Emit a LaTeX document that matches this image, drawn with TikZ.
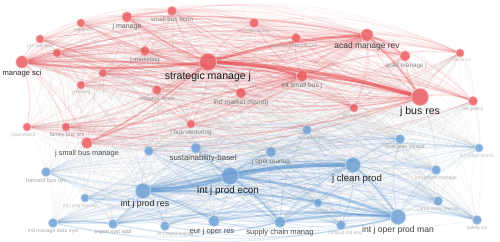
\documentclass[tikz,border=0pt]{standalone}
\usepackage{fontspec}
\setmainfont{Liberation Sans}
\usetikzlibrary{backgrounds}
\definecolor{vosred}{HTML}{E6464B}
\definecolor{vosblue}{HTML}{5A93CF}
\definecolor{vosgrey}{HTML}{9A9A9A}
\begin{document}
\begin{tikzpicture}[x=0.02cm,y=-0.02cm,
  rnode/.style={circle,inner sep=0pt,fill=vosred,fill opacity=0.75,draw=vosred!55,draw opacity=0.5,line width=0.7pt},
  bnode/.style={circle,inner sep=0pt,fill=vosblue,fill opacity=0.75,draw=vosblue!55,draw opacity=0.5,line width=0.7pt},
  every label/.style={inner sep=0.4pt,text opacity=1,fill opacity=0,draw opacity=0},
  redge/.style={draw=vosred,opacity=0.09,line width=0.35pt},
  bedge/.style={draw=vosblue,opacity=0.09,line width=0.35pt},
  xedge/.style={draw=vosgrey,opacity=0.08,line width=0.3pt}]
\useasboundingbox (0,0) rectangle (500,242);
\begin{scope}[on background layer]
\fill[white] (0,0) rectangle (500,242);
\end{scope}
% journals, red cluster
\foreach \n/\x/\y/\s/\t/\f/\g/\d in {
  1/22/62/12/manage sci/4.3/85/0,
  2/40/39/8/j int bus stud/2.6/30/0,
  3/81/23/8/organ sci/2.6/30/2,
  4/127/17/10/j manage/4/60/0,
  5/172/11/9/small bus econ/3.6/50/0,
  6/57/53/8//2.6/30/0,
  7/145/51/9/j marketing/3.4/50/0,
  8/103/73/8//2.6/30/0,
  9/81/85/8/j retailing/2.6/30/0,
  10/157/90/9/manage decis/3.2/40/0,
  11/208/62/17/strategic manage j/6/90/0,
  12/254/23/9/int j manag rev/2.8/30/0,
  13/296/38/9/technol forecast soc/3/35/-2,
  14/367/35/12/acad manage rev/4.8/75/0,
  15/405/56/10/acad manage j/3.6/45/1,
  16/460/53/8/decis sci/2.6/25/2,
  17/302/76/11/int small bus j/3.8/55/0,
  18/241/93/10/ind market manag/3.9/50/0,
  19/420/97/17/j bus res/6/90/0,
  20/473/101/9/res policy/2.8/30/0,
  21/354/108/8/technovation/2.8/30/3,
  22/191/124/8/j bus venturing/3.6/45/0,
  23/87/143/11/j small bus manage/4.2/70/0,
  24/27/127/8/j bus ethics/2.8/30/-4,
  25/66/127/8/family bus rev/3.2/40/1}
  \node[rnode,minimum size=\s*0.567pt,
    label={[font=\fontsize{\f}{\f}\selectfont,text=black!\g,xshift=\d*0.02cm]below:\t}] (r\n) at (\x,\y) {};
% journals, blue cluster
\foreach \n/\x/\y/\s/\t/\f/\g/\d in {
  1/46/172/9/harvard bus rev/3.3/35/0,
  2/149/151/9//2.6/30/0,
  3/196/148/10/sustainability-basel/4.5/70/7,
  4/307/130/9/int j prod eng/2.8/30/5,
  5/271/152/10/j oper manag/3.7/55/0,
  6/230/176/17/int j prod econ/5.6/90/-2,
  7/143/191/15/int j prod res/5/85/2,
  8/85/198/8/int j proj manag/2.8/25/-5,
  9/53/223/9/ind manage data syst/3/35/0,
  10/113/224/9/expert syst appl/3/40/0,
  11/165/226/9/int j logist manag/2.8/30/10,
  12/214/221/11/eur j oper res/4.3/70/-2,
  13/280/222/11/supply chain manag/4.3/70/0,
  14/341/225/9/comput ind eng/2.8/30/4,
  15/398/217/15/int j oper prod man/4.9/75/0,
  16/477/220/9/safety sci/2.8/30/0,
  17/438/201/9/j prod innov manag/2.8/30/0,
  18/436/170/9/int j inform manage/2.8/30/0,
  19/479/148/8/int j phys distrib/2.8/25/-2,
  20/400/139/9/prod plan control/3/40/5,
  21/353/165/15/j clean prod/5.5/85/4,
  22/318/203/8/j manuf syst/2.8/25/7}
  \node[bnode,minimum size=\s*0.567pt,
    label={[font=\fontsize{\f}{\f}\selectfont,text=black!\g,xshift=\d*0.02cm]below:\t}] (b\n) at (\x,\y) {};
% links
\begin{scope}[on background layer]
\foreach \i in {1,...,25}
  \foreach \j in {1,...,22}
    \draw[xedge] (r\i) to[bend left=12] (b\j);
\foreach \i in {1,...,24}{
  \pgfmathtruncatemacro\k{\i+1}
  \foreach \j in {\k,...,25}
    \draw[redge] (r\i) to[bend left=16] (r\j);
}
\foreach \i in {1,...,21}{
  \pgfmathtruncatemacro\k{\i+1}
  \foreach \j in {\k,...,22}
    \draw[bedge] (b\i) to[bend left=16] (b\j);
}
\foreach \h in {1,11,14,17,19}
  \foreach \j in {1,...,25}
    {\ifnum\h=\j\else\draw[redge,opacity=0.16,line width=0.6pt] (r\h) to[bend left=12] (r\j);\fi}
\foreach \h in {6,7,15,21,13}
  \foreach \j in {1,...,22}
    {\ifnum\h=\j\else\draw[bedge,opacity=0.16,line width=0.6pt] (b\h) to[bend left=12] (b\j);\fi}
\foreach \a/\b/\w/\o in {11/19/2.2/0.55, 11/14/1.5/0.5, 11/1/1.3/0.45, 11/17/1.3/0.45,
  14/19/1.1/0.4, 1/19/1/0.35, 11/4/0.9/0.35, 17/19/1.1/0.4, 11/23/0.9/0.35,
  14/15/0.9/0.35, 4/14/0.8/0.3, 23/17/0.8/0.3}
  \draw[redge,line width=\w pt,opacity=\o] (r\a) to[bend left=6] (r\b);
\foreach \a/\b/\w/\o in {6/7/2.4/0.55, 6/21/2.4/0.55, 7/21/1.4/0.4, 6/15/1.5/0.45,
  7/15/1.2/0.4, 13/15/1.4/0.45, 12/15/1/0.35, 9/10/1/0.35, 7/12/1/0.35,
  6/13/1.1/0.4, 21/15/1.1/0.4, 6/3/0.9/0.35, 6/5/0.9/0.35, 10/15/0.8/0.3, 7/10/0.8/0.3}
  \draw[bedge,line width=\w pt,opacity=\o] (b\a) to[bend left=6] (b\b);
\end{scope}
\end{tikzpicture}
\end{document}
